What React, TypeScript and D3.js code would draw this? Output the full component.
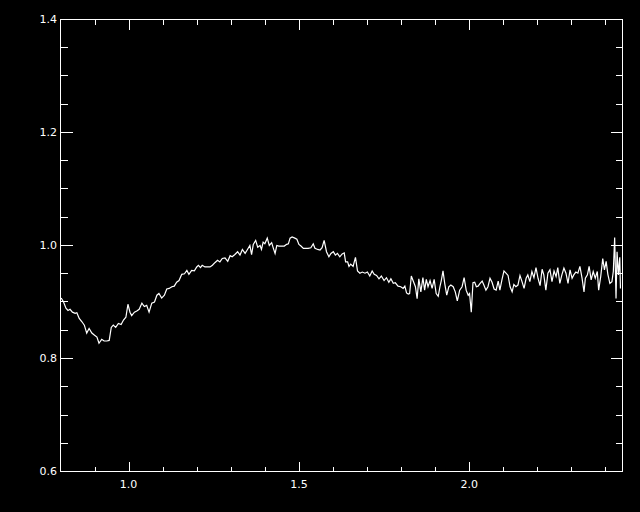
import React, { useRef, useEffect } from 'react'
import * as d3 from 'd3'

// wavelength (micron) and normalised flux
const wavelength = [
  0.802, 0.809, 0.816, 0.822, 0.828, 0.835, 0.843, 0.848, 0.855, 0.863,
  0.870, 0.877, 0.884, 0.892, 0.900, 0.907, 0.913, 0.921, 0.928, 0.936,
  0.943, 0.949, 0.955, 0.962, 0.970, 0.978, 0.985, 0.992, 0.998, 1.004,
  1.009, 1.017, 1.024, 1.031, 1.039, 1.046, 1.053, 1.060, 1.068, 1.076,
  1.083, 1.089, 1.097, 1.105, 1.112, 1.119, 1.127, 1.134, 1.141, 1.148,
  1.156, 1.164, 1.171, 1.177, 1.185, 1.193, 1.200, 1.205, 1.211, 1.216,
  1.224, 1.232, 1.239, 1.246, 1.254, 1.261, 1.268, 1.275, 1.283, 1.291,
  1.298, 1.304, 1.312, 1.320, 1.327, 1.334, 1.342, 1.349, 1.356, 1.361,
  1.366, 1.373, 1.379, 1.386, 1.390, 1.395, 1.400, 1.407, 1.413, 1.420,
  1.425, 1.430, 1.435, 1.441, 1.449, 1.457, 1.464, 1.469, 1.474, 1.480,
  1.488, 1.494, 1.500, 1.506, 1.513, 1.519, 1.527, 1.535, 1.542, 1.547,
  1.555, 1.562, 1.568, 1.574, 1.581, 1.588, 1.594, 1.601, 1.607, 1.613,
  1.620, 1.627, 1.633, 1.637, 1.643, 1.647, 1.652, 1.659, 1.666, 1.672,
  1.679, 1.686, 1.694, 1.701, 1.708, 1.715, 1.721, 1.728, 1.735, 1.742,
  1.750, 1.757, 1.764, 1.770, 1.777, 1.783, 1.791, 1.799, 1.806, 1.811,
  1.816, 1.821, 1.825, 1.830, 1.835, 1.842, 1.847, 1.852, 1.858, 1.864,
  1.869, 1.874, 1.879, 1.885, 1.891, 1.897, 1.903, 1.909, 1.914, 1.918,
  1.923, 1.928, 1.934, 1.940, 1.946, 1.953, 1.959, 1.965, 1.972, 1.979,
  1.985, 1.991, 1.997, 2.001, 2.006, 2.011, 2.016, 2.021, 2.026, 2.032,
  2.038, 2.043, 2.049, 2.055, 2.061, 2.067, 2.073, 2.079, 2.085, 2.090,
  2.096, 2.102, 2.108, 2.114, 2.120, 2.126, 2.131, 2.137, 2.143, 2.149,
  2.155, 2.161, 2.167, 2.172, 2.178, 2.184, 2.190, 2.196, 2.202, 2.208,
  2.214, 2.219, 2.225, 2.231, 2.237, 2.243, 2.249, 2.255, 2.260, 2.266,
  2.272, 2.278, 2.284, 2.290, 2.296, 2.302, 2.307, 2.313, 2.319, 2.325,
  2.331, 2.337, 2.341, 2.347, 2.352, 2.358, 2.364, 2.370, 2.376, 2.380,
  2.386, 2.392, 2.397, 2.402, 2.407, 2.413, 2.419, 2.423, 2.427, 2.431,
  2.434, 2.438, 2.442, 2.444,
]

const flux = [
  0.907, 0.900, 0.889, 0.885, 0.887, 0.882, 0.880, 0.881, 0.871, 0.865,
  0.859, 0.845, 0.853, 0.845, 0.841, 0.838, 0.827, 0.834, 0.831, 0.831,
  0.832, 0.855, 0.859, 0.855, 0.862, 0.860, 0.868, 0.873, 0.896, 0.882,
  0.876, 0.882, 0.884, 0.887, 0.898, 0.892, 0.894, 0.882, 0.898, 0.900,
  0.912, 0.915, 0.907, 0.912, 0.923, 0.924, 0.927, 0.928, 0.935, 0.938,
  0.949, 0.950, 0.956, 0.949, 0.956, 0.955, 0.962, 0.965, 0.961, 0.965,
  0.962, 0.962, 0.962, 0.965, 0.970, 0.974, 0.971, 0.977, 0.978, 0.972,
  0.982, 0.980, 0.984, 0.989, 0.983, 0.993, 0.986, 0.993, 1.000, 0.984,
  1.002, 1.009, 0.997, 1.000, 0.993, 1.006, 1.003, 1.013, 1.000, 1.005,
  0.995, 0.986, 1.000, 0.999, 0.999, 0.999, 1.002, 1.003, 1.013, 1.015,
  1.013, 1.011, 1.002, 0.999, 0.995, 0.995, 0.995, 0.996, 1.003, 0.995,
  0.993, 0.992, 0.996, 1.009, 0.989, 0.980, 0.986, 0.989, 0.983, 0.986,
  0.980, 0.985, 0.987, 0.971, 0.971, 0.963, 0.967, 0.963, 0.979, 0.955,
  0.951, 0.953, 0.951, 0.953, 0.946, 0.955, 0.949, 0.947, 0.941, 0.946,
  0.938, 0.943, 0.935, 0.941, 0.933, 0.934, 0.928, 0.927, 0.924, 0.928,
  0.916, 0.914, 0.915, 0.946, 0.938, 0.927, 0.906, 0.941, 0.918, 0.943,
  0.921, 0.940, 0.927, 0.938, 0.924, 0.940, 0.915, 0.910, 0.927, 0.938,
  0.955, 0.933, 0.912, 0.927, 0.930, 0.927, 0.918, 0.902, 0.921, 0.927,
  0.943, 0.921, 0.912, 0.915, 0.882, 0.934, 0.935, 0.927, 0.928, 0.933,
  0.937, 0.930, 0.921, 0.927, 0.942, 0.935, 0.923, 0.921, 0.937, 0.921,
  0.939, 0.955, 0.951, 0.947, 0.927, 0.918, 0.931, 0.927, 0.930, 0.947,
  0.936, 0.924, 0.942, 0.948, 0.936, 0.954, 0.943, 0.961, 0.942, 0.929,
  0.958, 0.948, 0.921, 0.951, 0.957, 0.936, 0.955, 0.945, 0.961, 0.933,
  0.948, 0.960, 0.951, 0.933, 0.957, 0.942, 0.948, 0.953, 0.951, 0.963,
  0.943, 0.918, 0.942, 0.948, 0.963, 0.939, 0.954, 0.942, 0.954, 0.921,
  0.945, 0.977, 0.957, 0.972, 0.949, 0.933, 0.936, 0.954, 1.014, 0.906,
  0.989, 0.948, 0.979, 0.924,
]

const xMajor = [1.0, 1.5, 2.0]
const xMinor = [0.9, 1.1, 1.2, 1.3, 1.4, 1.6, 1.7, 1.8, 1.9, 2.1, 2.2, 2.3, 2.4]
const yMajor = [0.6, 0.8, 1.0, 1.2, 1.4]
const yMinor = [0.65, 0.7, 0.75, 0.85, 0.9, 0.95, 1.05, 1.1, 1.15, 1.25, 1.3, 1.35]

export default function App() {
  const ref = useRef<SVGSVGElement>(null)

  useEffect(() => {
    const el = ref.current
    if (!el) return
    const svg = d3.select(el)
    svg.selectAll('*').remove()

    const x = d3.scaleLinear().domain([0.8, 2.45]).range([60.5, 622.5])
    const y = d3.scaleLinear().domain([0.6, 1.4]).range([471.5, 19.5])
    const [x0, x1] = x.range()
    const [y0, y1] = y.range()

    svg.append('rect').attr('width', 640).attr('height', 512).attr('fill', '#000')

    const axes = svg.append('g').attr('stroke', '#fff').attr('stroke-width', 1)
      .attr('shape-rendering', 'crispEdges').attr('fill', 'none')

    axes.append('rect').attr('x', x0).attr('y', y1)
      .attr('width', x1 - x0).attr('height', y0 - y1)

    // x ticks, bottom (up) and top (down)
    const xt = (vals: number[], len: number) => {
      vals.forEach(v => {
        const px = Math.round(x(v)) + 0.5
        axes.append('line').attr('x1', px).attr('x2', px).attr('y1', y0).attr('y2', y0 - len)
        axes.append('line').attr('x1', px).attr('x2', px).attr('y1', y1).attr('y2', y1 + len)
      })
    }
    xt(xMajor, 10)
    xt(xMinor, 5)

    // y ticks, left (right) and right (left)
    const yt = (vals: number[], len: number) => {
      vals.forEach(v => {
        const py = Math.round(y(v) - 0.5) + 0.5
        axes.append('line').attr('y1', py).attr('y2', py).attr('x1', x0).attr('x2', x0 + len)
        axes.append('line').attr('y1', py).attr('y2', py).attr('x1', x1).attr('x2', x1 - len)
      })
    }
    yt(yMajor, 12)
    yt(yMinor, 7)

    const fmt = d3.format('.1f')
    const labels = svg.append('g').attr('fill', '#fff')
      .attr('font-family', 'DejaVu Sans, sans-serif').attr('font-size', 11)

    labels.selectAll('text.xl').data(xMajor).join('text')
      .attr('x', d => x(d)).attr('y', 488).attr('text-anchor', 'middle')
      .text(d => fmt(d))

    labels.selectAll('text.yl').data(yMajor).join('text')
      .attr('x', 57).attr('y', d => y(d)).attr('dy', '0.35em').attr('text-anchor', 'end')
      .text(d => fmt(d))

    const pts = wavelength.map((w, i) => [w, flux[i]] as [number, number])
    const line = d3.line<[number, number]>().x(d => x(d[0])).y(d => y(d[1]))

    svg.append('path').datum(pts).attr('fill', 'none').attr('stroke', '#fff')
      .attr('stroke-width', 1.2).attr('stroke-linejoin', 'miter').attr('d', line)
  }, [])

  return (
    <svg ref={ref} width={640} height={512}
      style={{ position: 'absolute', left: 0, top: 0, display: 'block' }} />
  )
}
